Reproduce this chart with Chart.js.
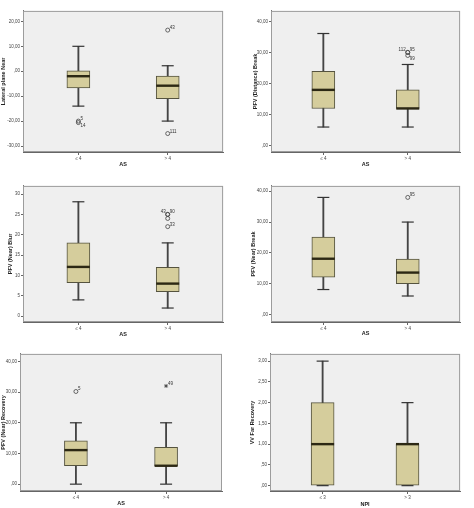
<!DOCTYPE html>
<html>
<head>
<meta charset="utf-8">
<script src="https://cdn.jsdelivr.net/npm/chart.js@4/dist/chart.umd.min.js"></script>
<style>
  html, body { margin: 0; padding: 0; background: #fff; }
  body { width: 474px; height: 508px; overflow: hidden; position: relative; }
  canvas { position: absolute; }
</style>
</head>
<body>
<canvas id="lpn"   width="237" height="175" style="left:0;top:-3px"></canvas>
<canvas id="pdb"   width="237" height="175" style="left:237px;top:-3px"></canvas>
<canvas id="pnbl"  width="237" height="170" style="left:0;top:172px"></canvas>
<canvas id="pnbr"  width="237" height="170" style="left:237px;top:172px"></canvas>
<canvas id="pnrec" width="237" height="168" style="left:0;top:340px"></canvas>
<canvas id="vvfr"  width="237" height="168" style="left:237px;top:340px"></canvas>
<script>
// categories
const AS_CATS = ['≤ 4', '> 4'];
const NPI_CATS = ['≤ 3', '> 3'];

// Lateral plane Near
const LPN_MIN = [-14, -20];
const LPN_Q1 = [-6.7, -11];
const LPN_MED = [-2, -5.8];
const LPN_Q3 = [0.2, -1.9];
const LPN_MAX = [10, 2.2];
const LPN_OUT_X = [0, 0, 1, 1];
const LPN_OUT_Y = [-20, -20.6, 16.5, -25];
const LPN_OUT_ID = ['5', '14', '43', '111'];
const LPN_TICKS = [-30, -20, -10, 0, 10, 20];

// PFV (Distance) Break
const PDB_MIN = [6, 6];
const PDB_Q1 = [12, 12];
const PDB_MED = [18, 12];
const PDB_Q3 = [24, 18];
const PDB_MAX = [36.2, 26.2];
const PDB_OUT_X = [1, 1, 1];
const PDB_OUT_Y = [30.1, 30.1, 29.1];
const PDB_OUT_ID = ['112', '95', '99'];
const PDB_TICKS = [0, 10, 20, 30, 40];

// PFV (Near) Blur
const PNBL_MIN = [4, 2];
const PNBL_Q1 = [8.2, 6];
const PNBL_MED = [12.1, 8];
const PNBL_Q3 = [18, 12];
const PNBL_MAX = [28.1, 18];
const PNBL_OUT_X = [1, 1, 1, 1];
const PNBL_OUT_Y = [25, 25, 24, 22];
const PNBL_OUT_ID = ['43', '90', '', '33'];
const PNBL_TICKS = [0, 5, 10, 15, 20, 25, 30];

// PFV (Near) Break
const PNBR_MIN = [8.1, 6];
const PNBR_Q1 = [12.1, 10];
const PNBR_MED = [18.1, 13.6];
const PNBR_Q3 = [25.1, 18];
const PNBR_MAX = [38, 30];
const PNBR_OUT_X = [1];
const PNBR_OUT_Y = [38];
const PNBR_OUT_ID = ['95'];
const PNBR_TICKS = [0, 10, 20, 30, 40];

// PFV (Near) Recovery
const PNREC_MIN = [0, 0];
const PNREC_Q1 = [6, 6];
const PNREC_MED = [11.1, 6];
const PNREC_Q3 = [14.1, 12];
const PNREC_MAX = [20, 20];
const PNREC_OUT_X = [0, 1];
const PNREC_OUT_Y = [30.2, 32];
const PNREC_OUT_ID = ['5', '49'];
const PNREC_TICKS = [0, 10, 20, 30, 40];

// VV Far Recovery
const VVFR_MIN = [0, 0];
const VVFR_Q1 = [0, 0];
const VVFR_MED = [1, 1];
const VVFR_Q3 = [2, 1];
const VVFR_MAX = [3, 2];
const VVFR_TICKS = [0, 0.5, 1, 1.5, 2, 2.5, 3];

const FONT = '"Liberation Sans", Arial, sans-serif';
const BOX_FILL = '#d5cd9c';

function comma2(v) {
  let s = Math.abs(v).toFixed(2).replace('.', ',');
  if (s.startsWith('0,')) s = s.slice(1);
  return (v < 0 ? '-' : '') + s;
}
function plain(v) { return String(v); }

const frame = {
  id: 'frame',
  beforeDatasetsDraw(chart) {
    const a = chart.chartArea, ctx = chart.ctx;
    ctx.save();
    ctx.fillStyle = '#efefef';
    ctx.fillRect(a.left, a.top, a.right - a.left, a.bottom - a.top);
    ctx.restore();
  },
  afterDraw(chart) {
    const a = chart.chartArea, ctx = chart.ctx;
    ctx.save();
    ctx.strokeStyle = '#9c9c9c';
    ctx.lineWidth = 1;
    ctx.strokeRect(a.left + 0.5, a.top + 0.5, a.right - a.left - 1, a.bottom - a.top - 1);
    ctx.restore();
  }
};

const outlierIds = {
  id: 'outlierIds',
  afterDatasetsDraw(chart) {
    const ctx = chart.ctx;
    chart.data.datasets.forEach((ds, i) => {
      if (!ds.outIds) return;
      chart.getDatasetMeta(i).data.forEach((pt, j) => {
        const id = ds.outIds[j];
        if (!id) return;
        const pos = (ds.outPos && ds.outPos[j]) || 'ne';
        ctx.save();
        ctx.font = '4.5px ' + FONT;
        ctx.fillStyle = '#333';
        ctx.textAlign = pos.endsWith('w') ? 'right' : 'left';
        ctx.textBaseline = pos.startsWith('n') ? 'bottom' : 'top';
        const dx = pos.endsWith('w') ? -2 : 2;
        const dy = pos.startsWith('n') ? 0 : 1;
        ctx.fillText(id, pt.x + dx, pt.y + dy);
        ctx.restore();
      });
    });
  }
};

function boxPlot(id, p) {
  const idx = p.cats.map((c, i) => i);
  const outX = p.outX || [];
  new Chart(document.getElementById(id), {
    type: 'bar',
    data: {
      datasets: [
        {
          data: idx.map(i => ({ x: i, y: [p.min[i], p.max[i]] })),
          backgroundColor: '#444', barThickness: 1.2, grouped: false, order: 5
        },
        {
          data: idx.map(i => ({ x: i, y: [p.q1[i], p.q3[i]] })),
          backgroundColor: BOX_FILL, borderColor: '#55533f', borderWidth: 1,
          borderSkipped: false, barThickness: 23, grouped: false, order: 4
        },
        {
          type: 'line', showLine: false, order: 3,
          data: idx.flatMap(i => [{ x: i, y: p.min[i] }, { x: i, y: p.max[i] }]),
          pointStyle: 'line', pointRadius: 6, pointBorderColor: '#333', pointBorderWidth: 1.2
        },
        {
          type: 'line', showLine: false, order: 2,
          data: idx.map(i => ({ x: i, y: p.med[i] })),
          pointStyle: 'line', pointRadius: 11.5, pointBorderColor: '#2c2814', pointBorderWidth: 2.4
        },
        {
          type: 'line', showLine: false, order: 1,
          data: outX.map((x, j) => ({ x: x, y: p.outY[j] })),
          pointStyle: p.outStyle || 'circle', pointRadius: 2, pointBorderColor: '#444',
          pointBackgroundColor: 'rgba(0,0,0,0)', pointBorderWidth: 0.8,
          outIds: p.outIds, outPos: p.outPos
        }
      ]
    },
    options: {
      responsive: false,
      animation: false,
      devicePixelRatio: 1,
      layout: { padding: { left: 0, right: p.padR, top: p.padT, bottom: 0 } },
      plugins: { legend: { display: false }, tooltip: { enabled: false } },
      events: [],
      scales: {
        x: {
          type: 'linear', min: -0.62, max: 1.62, offset: false,
          afterBuildTicks: s => { s.ticks = idx.map(i => ({ value: i })); },
          afterFit: s => { s.height = p.xh; },
          ticks: { callback: v => p.cats[v], font: { size: 4.5, family: FONT }, color: '#444', padding: 1, autoSkip: false, maxRotation: 0 },
          grid: { drawOnChartArea: false, offset: false, tickLength: 3, color: '#666' },
          border: { color: '#666' },
          title: { display: true, text: p.xTitle, color: '#222', font: { size: 5.5, weight: 'bold', family: FONT }, padding: { top: 0, bottom: p.xTitlePad } }
        },
        y: {
          min: p.yMin, max: p.yMax,
          afterBuildTicks: s => { s.ticks = p.ticks.map(v => ({ value: v })); },
          afterFit: s => { s.width = p.yw; },
          ticks: { callback: p.fmt, font: { size: 4.5, family: FONT }, color: '#444', padding: 1, autoSkip: false },
          grid: { drawOnChartArea: false, tickLength: 2, color: '#666' },
          border: { color: '#666' },
          title: { display: true, text: p.yTitle, color: '#222', font: { size: 5.5, weight: 'bold', family: FONT }, padding: { top: p.yTitlePad, bottom: 0 } }
        }
      }
    },
    plugins: [frame, outlierIds]
  });
}

boxPlot('lpn', {
  cats: AS_CATS, min: LPN_MIN, q1: LPN_Q1, med: LPN_MED, q3: LPN_Q3, max: LPN_MAX,
  outX: LPN_OUT_X, outY: LPN_OUT_Y, outIds: LPN_OUT_ID, outPos: ['ne', 'se', 'ne', 'ne'],
  ticks: LPN_TICKS, fmt: comma2, yMin: -32.4, yMax: 24.2,
  yTitle: 'Lateral plane Near', xTitle: 'AS',
  yw: 23, xh: 20, padR: 12, padT: 0, yTitlePad: 0, xTitlePad: 4
});
boxPlot('pdb', {
  cats: AS_CATS, min: PDB_MIN, q1: PDB_Q1, med: PDB_MED, q3: PDB_Q3, max: PDB_MAX,
  outX: PDB_OUT_X, outY: PDB_OUT_Y, outIds: PDB_OUT_ID, outPos: ['nw', 'ne', 'se'],
  ticks: PDB_TICKS, fmt: comma2, yMin: -2.06, yMax: 43.5,
  yTitle: 'PFV (Distance) Break', xTitle: 'AS',
  yw: 34, xh: 20, padR: 1, padT: 0, yTitlePad: 15, xTitlePad: 4
});
boxPlot('pnbl', {
  cats: AS_CATS, min: PNBL_MIN, q1: PNBL_Q1, med: PNBL_MED, q3: PNBL_Q3, max: PNBL_MAX,
  outX: PNBL_OUT_X, outY: PNBL_OUT_Y, outIds: PNBL_OUT_ID, outPos: ['nw', 'ne', 'ne', 'ne'],
  ticks: PNBL_TICKS, fmt: plain, yMin: -1.43, yMax: 32.0,
  yTitle: 'PFV (Near) Blur', xTitle: 'AS',
  yw: 23, xh: 20, padR: 13, padT: 3, yTitlePad: 7, xTitlePad: 4
});
boxPlot('pnbr', {
  cats: AS_CATS, min: PNBR_MIN, q1: PNBR_Q1, med: PNBR_MED, q3: PNBR_Q3, max: PNBR_MAX,
  outX: PNBR_OUT_X, outY: PNBR_OUT_Y, outIds: PNBR_OUT_ID,
  ticks: PNBR_TICKS, fmt: comma2, yMin: -2.44, yMax: 41.74,
  yTitle: 'PFV (Near) Break', xTitle: 'AS',
  yw: 34, xh: 20, padR: 1, padT: 5, yTitlePad: 13, xTitlePad: 5.5
});
boxPlot('pnrec', {
  cats: AS_CATS, min: PNREC_MIN, q1: PNREC_Q1, med: PNREC_MED, q3: PNREC_Q3, max: PNREC_MAX,
  outX: PNREC_OUT_X, outY: PNREC_OUT_Y, outIds: PNREC_OUT_ID, outStyle: ['circle', 'star'],
  ticks: PNREC_TICKS, fmt: comma2, yMin: -2.23, yMax: 42.45,
  yTitle: 'PFV (Near) Recovery', xTitle: 'AS',
  yw: 20, xh: 17, padR: 15, padT: 5, yTitlePad: 0, xTitlePad: 1.5
});
boxPlot('vvfr', {
  cats: NPI_CATS, min: VVFR_MIN, q1: VVFR_Q1, med: VVFR_MED, q3: VVFR_Q3, max: VVFR_MAX,
  ticks: VVFR_TICKS, fmt: comma2, yMin: -0.129, yMax: 3.174,
  yTitle: 'VV Far Recovery', xTitle: 'NPI',
  yw: 33, xh: 17, padR: 1, padT: 5, yTitlePad: 12, xTitlePad: 0
});
</script>
</body>
</html>
